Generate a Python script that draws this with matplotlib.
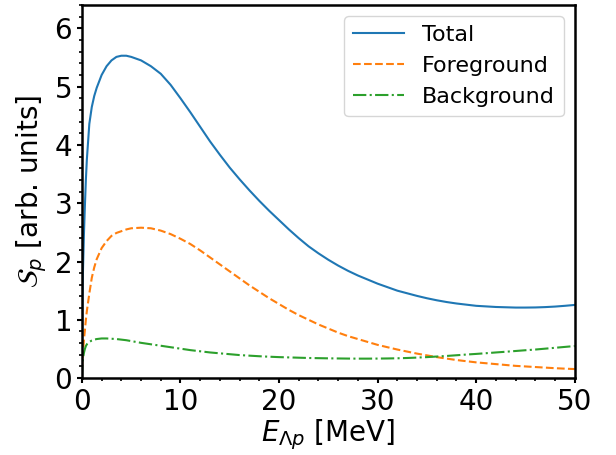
import numpy as np
import matplotlib
matplotlib.use("Agg")
import matplotlib.pyplot as plt
from matplotlib.ticker import AutoMinorLocator, MultipleLocator

# Energy grid [MeV]: fine steps near threshold, 1 MeV steps above
energy = [0, 0.05, 0.1, 0.2, 0.3, 0.4, 0.5, 0.75, 1, 1.25, 1.5, 2, 2.5, 3,
          3.5, 4, 4.5, 5, 6, 7, 8, 9, 10, 11, 12, 13, 14, 15, 16, 17, 18,
          19, 20, 21, 22, 23, 24, 25, 26, 27, 28, 29, 30, 31, 32, 33, 34, 35,
          36, 37, 38, 39, 40, 41, 42, 43, 44, 45, 46, 47, 48, 49, 50]

total = [0.0, 1.3, 1.8, 2.45, 2.95, 3.4, 3.75, 4.36, 4.65, 4.84, 4.98, 5.2,
         5.35, 5.45, 5.51, 5.53, 5.53, 5.51, 5.45, 5.35, 5.22, 5.03, 4.80,
         4.56, 4.31, 4.06, 3.83, 3.61, 3.41, 3.22, 3.04, 2.87, 2.71, 2.55,
         2.40, 2.26, 2.14, 2.03, 1.93, 1.84, 1.76, 1.69, 1.62, 1.56, 1.50,
         1.455, 1.41, 1.37, 1.335, 1.305, 1.28, 1.26, 1.24, 1.23, 1.22,
         1.215, 1.21, 1.21, 1.212, 1.218, 1.227, 1.24, 1.255]

foreground = [0.15, 0.3, 0.42, 0.65, 0.82, 1.0, 1.15, 1.45, 1.72, 1.9, 2.04,
              2.23, 2.35, 2.44, 2.49, 2.52, 2.55, 2.57, 2.58, 2.57, 2.53,
              2.47, 2.39, 2.30, 2.19, 2.07, 1.95, 1.83, 1.71, 1.59, 1.48,
              1.37, 1.27, 1.17, 1.08, 1.00, 0.92, 0.85, 0.78, 0.72, 0.67,
              0.62, 0.57, 0.53, 0.49, 0.455, 0.42, 0.39, 0.36, 0.335, 0.31,
              0.29, 0.27, 0.255, 0.24, 0.225, 0.21, 0.20, 0.19, 0.18, 0.17,
              0.162, 0.155]

background = [0.0, 0.25, 0.33, 0.43, 0.5, 0.55, 0.58, 0.62, 0.645, 0.66,
              0.67, 0.68, 0.68, 0.675, 0.67, 0.66, 0.65, 0.635, 0.605, 0.58,
              0.555, 0.53, 0.505, 0.48, 0.46, 0.44, 0.425, 0.41, 0.395, 0.385,
              0.375, 0.367, 0.36, 0.355, 0.35, 0.345, 0.342, 0.339, 0.337,
              0.335, 0.334, 0.334, 0.335, 0.337, 0.34, 0.345, 0.352, 0.36,
              0.37, 0.38, 0.392, 0.404, 0.415, 0.427, 0.44, 0.452, 0.465,
              0.478, 0.49, 0.505, 0.52, 0.535, 0.55]

plt.rcParams['axes.linewidth'] = 1.8
plt.rcParams['xtick.major.width'] = 1.5
plt.rcParams['ytick.major.width'] = 1.5
plt.rcParams['xtick.minor.width'] = 1.2
plt.rcParams['ytick.minor.width'] = 1.2

fig = plt.figure(figsize=(6.16, 4.55), dpi=100)
ax = fig.add_axes([0.133, 0.169, 0.8, 0.82])

ax.plot(energy, total, '-', color='C0', lw=1.5, label='Total')
ax.plot(energy, foreground, '--', color='C1', lw=1.5, label='Foreground')
ax.plot(energy, background, '-.', color='C2', lw=1.5, label='Background')

ax.set_xlim(0, 50)
ax.set_ylim(0, 6.4)
ax.xaxis.set_major_locator(MultipleLocator(10))
ax.yaxis.set_major_locator(MultipleLocator(1))
ax.xaxis.set_minor_locator(AutoMinorLocator(5))
ax.yaxis.set_minor_locator(AutoMinorLocator(5))
ax.tick_params(labelsize=20)

ax.set_xlabel(r'$E_{\Lambda p}$ [MeV]', fontsize=20, labelpad=1)
ax.set_ylabel(r'$\mathcal{S}_p$ [arb. units]', fontsize=20, labelpad=4)
ax.legend(loc='upper right', fontsize=16, handlelength=2.3)

fig.savefig('out.png', dpi=100)
